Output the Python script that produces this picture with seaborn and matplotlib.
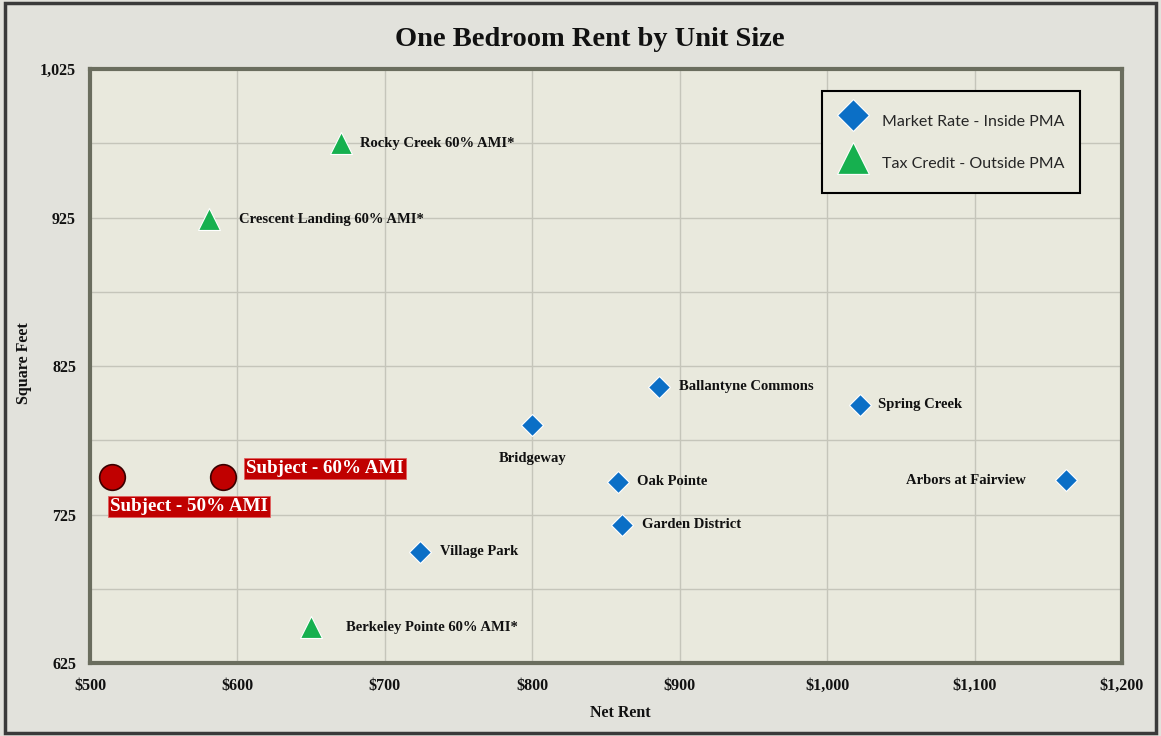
import numpy as np
import pandas as pd
import matplotlib
matplotlib.use("Agg")
import matplotlib.pyplot as plt
from matplotlib.patches import Rectangle
from matplotlib.ticker import FixedLocator, FuncFormatter
import seaborn as sns

# ---------------- data ----------------
market_names = ["Bridgeway", "Ballantyne Commons", "Oak Pointe", "Garden District",
                "Spring Creek", "Arbors at Fairview", "Village Park"]
market_rent = [800, 886, 858, 861, 1022, 1162, 724]
market_sqft = [785, 811, 747, 718, 799, 748, 700]

tax_names = ["Rocky Creek 60% AMI*", "Crescent Landing 60% AMI*", "Berkeley Pointe 60% AMI*"]
tax_rent = [670, 581, 650]
tax_sqft = [975, 924, 649]

subject_names = ["Subject - 50% AMI", "Subject - 60% AMI"]
subject_rent = [515, 590]
subject_sqft = [750, 750]

x_ticks = [500, 600, 700, 800, 900, 1000, 1100, 1200]
y_ticks = [625, 725, 825, 925, 1025]
y_minor = [675, 775, 875, 975]

legend_labels = ["Market Rate - Inside PMA", "Tax Credit - Outside PMA"]
title = "One Bedroom Rent by Unit Size"
x_label = "Net Rent"
y_label = "Square Feet"

# label offsets (points) and alignment per point
market_offsets = [(0, -24, "center"), (14, 0, "left"), (14, 0, "left"), (14, 0, "left"),
                  (13, 0, "left"), (-29, 0, "right"), (14, 0, "left")]
tax_offsets = [(14, 0, "left"), (21, 0, "left"), (25, 0, "left")]

market_df = pd.DataFrame({"rent": market_rent, "sqft": market_sqft, "name": market_names})
tax_df = pd.DataFrame({"rent": tax_rent, "sqft": tax_sqft, "name": tax_names})
subj_df = pd.DataFrame({"rent": subject_rent, "sqft": subject_sqft, "name": subject_names})

# ---------------- style ----------------
sns.set_style("white")
fig_bg = "#E2E2DC"
ax_bg = "#E9E9DD"
serif = ["Liberation Serif", "DejaVu Serif"]

fig = plt.figure(figsize=(11.61, 7.36), dpi=100, facecolor=fig_bg)
ax = fig.add_axes([0.0775, 0.0992, 0.8889, 0.807])
ax.set_facecolor(ax_bg)

blue = "#0B6FC6"
green = "#16B04F"
red = "#C00000"

sns.scatterplot(data=market_df, x="rent", y="sqft", marker="D", s=125, color=blue,
                edgecolor="white", linewidth=0.8, ax=ax, label=legend_labels[0], zorder=5)
sns.scatterplot(data=tax_df, x="rent", y="sqft", marker="^", s=250, color=green,
                edgecolor="white", linewidth=0.8, ax=ax, label=legend_labels[1], zorder=5)
sns.scatterplot(data=subj_df, x="rent", y="sqft", marker="o", s=340, color=red,
                edgecolor="#3A0000", linewidth=1.2, ax=ax, legend=False, zorder=5)

for (nm, xr, yr), (dx, dy, ha) in zip(zip(market_names, market_rent, market_sqft), market_offsets):
    ax.annotate(nm, (xr, yr), xytext=(dx, dy), textcoords="offset points", ha=ha, va="center",
                fontsize=10.5, fontweight="bold", family=serif, color="#111111", zorder=6)
for (nm, xr, yr), (dx, dy, ha) in zip(zip(tax_names, tax_rent, tax_sqft), tax_offsets):
    ax.annotate(nm, (xr, yr), xytext=(dx, dy), textcoords="offset points", ha=ha, va="center",
                fontsize=10.5, fontweight="bold", family=serif, color="#111111", zorder=6)

subj_offsets = [(-1.5, -21, "left"), (17, 6.5, "left")]
for (nm, xr, yr), (dx, dy, ha) in zip(zip(subject_names, subject_rent, subject_sqft), subj_offsets):
    ax.annotate(nm, (xr, yr), xytext=(dx, dy), textcoords="offset points", ha=ha, va="center",
                fontsize=13.7, fontweight="bold", family=serif, color="white", zorder=7,
                bbox=dict(boxstyle="square,pad=0.12", facecolor=red, edgecolor="#E06060", linewidth=0.6))

# ---------------- axes ----------------
ax.set_xlim(500, 1200)
ax.set_ylim(625, 1025)
ax.xaxis.set_major_locator(FixedLocator(x_ticks))
ax.yaxis.set_major_locator(FixedLocator(y_ticks))
ax.yaxis.set_minor_locator(FixedLocator(y_minor))
ax.xaxis.set_major_formatter(FuncFormatter(lambda v, p: "${:,.0f}".format(v)))
ax.yaxis.set_major_formatter(FuncFormatter(lambda v, p: "{:,.0f}".format(v)))
ax.grid(True, which="major", color="#C5C5BA", linewidth=1.0)
ax.grid(True, which="minor", axis="y", color="#C5C5BA", linewidth=1.0)
ax.set_axisbelow(True)
for sp in ax.spines.values():
    sp.set_visible(True)
    sp.set_color("#6A6D5E")
    sp.set_linewidth(3)
ax.tick_params(axis="both", which="major", length=5, width=1, color="#A0A098",
               labelsize=11.5, labelcolor="#111111")
ax.tick_params(axis="x", pad=6)
ax.tick_params(axis="y", pad=5)
ax.tick_params(axis="y", which="minor", length=0)
for lbl in ax.get_xticklabels() + ax.get_yticklabels():
    lbl.set_fontfamily(serif)
    lbl.set_fontweight("bold")

ax.set_xlabel(x_label, fontsize=11.5, fontweight="bold", family=serif, color="#111111")
ax.xaxis.set_label_coords(0.5136, -0.07)
ax.set_ylabel(y_label, fontsize=11.5, fontweight="bold", family=serif, color="#111111")
ax.yaxis.set_label_coords(-0.056, 0.505)

fig.text(0.508, 0.947, title, ha="center", va="center", fontsize=20.5, fontweight="bold",
         family=serif, color="#111111")

leg = ax.legend(loc="upper left", bbox_to_anchor=(0.709, 0.963), markerscale=1.45,
                prop={"family": "Lato", "size": 11.5}, frameon=True, fancybox=False,
                edgecolor="black", facecolor=ax_bg, framealpha=1, borderpad=0.95,
                labelspacing=0.875, handleheight=2.4, handletextpad=0.85, borderaxespad=0)
leg.get_frame().set_linewidth(1.5)

fig.patches.append(Rectangle((0.004, 0.004), 0.992, 0.992, transform=fig.transFigure,
                             fill=False, edgecolor="#3A3A3A", linewidth=2.5))

fig.savefig("out.png", dpi=100, facecolor=fig_bg)
